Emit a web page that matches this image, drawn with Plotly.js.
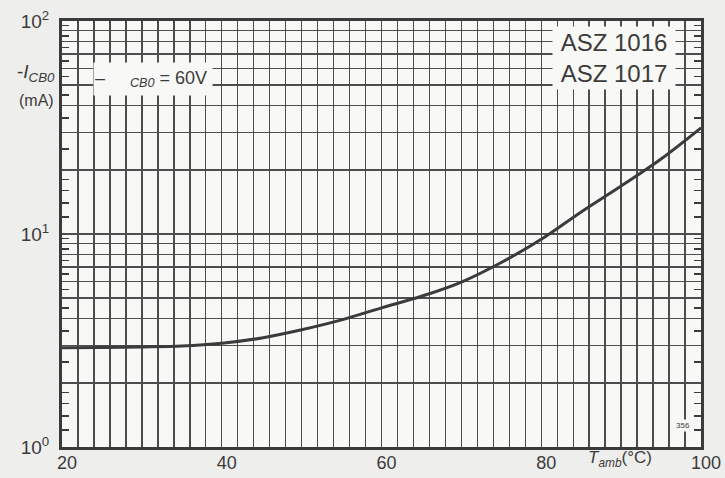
<!DOCTYPE html>
<html>
<head>
<meta charset="utf-8">
<script src="https://cdn.plot.ly/plotly-3.0.1.min.js"></script>
<style>
  html, body { margin: 0; padding: 0; background: #eeeeec; }
  #chart { width: 725px; height: 478px; }
</style>
</head>
<body>
<div id="chart"></div>
<script>
// Temperature (°C) and leakage current -I_CB0 (mA)
const tempC = [20, 25, 30, 35, 40, 45, 50, 55, 60, 65, 70, 75, 80, 85, 90, 95, 100];
const icbo  = [2.92, 2.93, 2.95, 2.98, 3.07, 3.25, 3.55, 3.95, 4.5, 5.1, 5.95, 7.35, 9.45, 12.7, 16.8, 22.5, 31.5];

const xTickVals = [20, 40, 60, 80, 100];
const xTickText = ['20', '40', '60', '80', '100'];
const yTickVals = [1, 10, 100];
const yTickText = ['10<sup>0</sup>', '10<sup>1</sup>', '10<sup>2</sup>'];
const yGridVals = [2, 3, 4, 5, 6, 7, 8, 9, 20, 30, 40, 50, 60, 70, 80, 90];
const yMinorVals = [1.2, 1.4, 1.6, 1.8, 2.5, 3.5, 4.5, 5.5, 6.5, 7.5, 8.5, 9.5,
                    12, 14, 16, 18, 25, 35, 45, 55, 65, 75, 85, 95];

const ink = '#3b3b3b';
const gridInk = '#4d4d4d';
const font = 'Liberation Sans, Arial, sans-serif';

const trace = {
  x: tempC, y: icbo, type: 'scatter', mode: 'lines',
  line: { color: ink, width: 3, shape: 'spline' },
  hoverinfo: 'skip', showlegend: false
};
// same data on the overlay axis that carries the half-step ticks (drawn invisibly)
const tickCarrier = {
  x: tempC, y: icbo, type: 'scatter', mode: 'lines', yaxis: 'y2',
  line: { color: 'rgba(0,0,0,0)', width: 0 },
  hoverinfo: 'skip', showlegend: false
};

const layout = {
  width: 725, height: 478,
  margin: { l: 62, r: 24, t: 21, b: 31 },
  paper_bgcolor: '#eeeeec',
  plot_bgcolor: '#f8f8f6',
  font: { family: font, color: ink, size: 18 },
  xaxis: {
    range: [20, 100],
    tickmode: 'array', tickvals: xTickVals, ticktext: xTickText,
    ticks: '', ticklabelshift: 5, ticklabelstandoff: -3,
    showgrid: true, gridcolor: gridInk, gridwidth: 1.4,
    minor: { dtick: 2, showgrid: true, gridcolor: gridInk, gridwidth: 1.4, ticks: '' },
    showline: true, linecolor: ink, linewidth: 3, mirror: true,
    zeroline: false, fixedrange: true,
    tickfont: { size: 18, color: ink }
  },
  yaxis: {
    type: 'log', range: [0, 2],
    tickmode: 'array', tickvals: yTickVals, ticktext: yTickText,
    ticks: '', ticklabelstandoff: 6,
    showgrid: true, gridcolor: gridInk, gridwidth: 1.4,
    minor: { tickmode: 'array', tickvals: yGridVals, ticks: '', showgrid: true, gridcolor: gridInk, gridwidth: 1.4 },
    showline: true, linecolor: ink, linewidth: 3, mirror: true,
    zeroline: false, fixedrange: true,
    tickfont: { size: 19, color: ink }
  },
  yaxis2: {
    type: 'log', range: [0, 2], overlaying: 'y', side: 'left',
    tickmode: 'array', tickvals: yMinorVals,
    ticks: 'inside', ticklen: 7, tickwidth: 1.5, tickcolor: ink,
    showticklabels: false, showgrid: false, showline: false,
    mirror: 'ticks', zeroline: false, fixedrange: true
  },
  annotations: [
    { xref: 'paper', yref: 'paper', x: (36 - 62) / 639, y: (447 - 73) / 426,
      text: '-<i>I</i><sub><i>CB0</i></sub>', showarrow: false,
      font: { size: 19, color: ink }, xanchor: 'center', yanchor: 'middle' },
    { xref: 'paper', yref: 'paper', x: (36 - 62) / 639, y: (447 - 100) / 426,
      text: '(mA)', showarrow: false,
      font: { size: 16, color: ink }, xanchor: 'center', yanchor: 'middle' },
    { xref: 'paper', yref: 'paper', x: (93 - 62) / 639, y: (447 - 62) / 426,
      text: '–     <sub><i>CB0</i></sub> = 60V', showarrow: false,
      font: { size: 18, color: ink }, xanchor: 'left', yanchor: 'top',
      align: 'left', bgcolor: '#f8f8f6', width: 116, height: 30, valign: 'middle' },
    { xref: 'paper', yref: 'paper', x: (552 - 62) / 639, y: (447 - 26) / 426,
      text: 'ASZ 1016<br>ASZ 1017', showarrow: false,
      font: { size: 24, color: ink }, xanchor: 'left', yanchor: 'top',
      align: 'center', bgcolor: '#f8f8f6', width: 120, height: 60, valign: 'middle' },
    { xref: 'paper', yref: 'paper', x: (586 - 62) / 639, y: (447 - 459) / 426,
      text: '<i>T</i><sub><i>amb</i></sub>(°C)', showarrow: false,
      font: { size: 17, color: ink }, xanchor: 'left', yanchor: 'middle' },
    { xref: 'paper', yref: 'paper', x: (692 - 62) / 639, y: (447 - 425) / 426,
      text: '356', showarrow: false,
      font: { size: 8, color: ink }, xanchor: 'right', yanchor: 'middle',
      bgcolor: '#f8f8f6' }
  ]
};

Plotly.newPlot('chart', [trace, tickCarrier], layout, { staticPlot: true, displayModeBar: false });
</script>
</body>
</html>
